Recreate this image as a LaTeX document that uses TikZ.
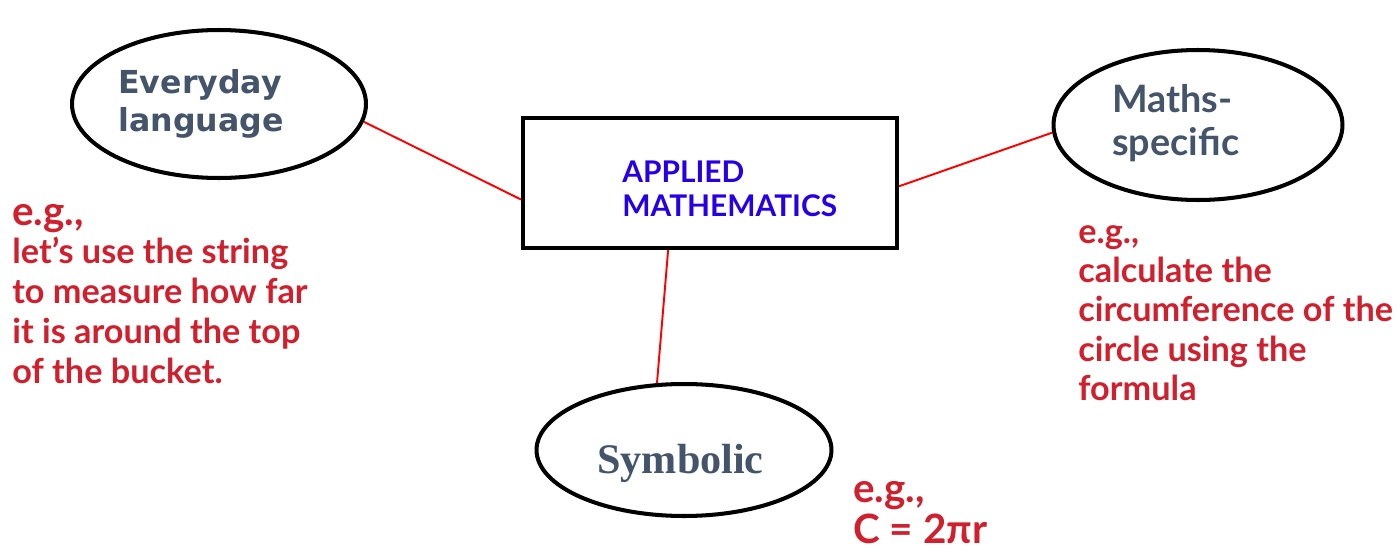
\documentclass[tikz,border=0pt]{standalone}
\usepackage{fontspec}
\setmainfont{Lato}
\newfontfamily\verdanafont{DejaVu Sans}
\newfontfamily\timesfont{Liberation Serif}
\usetikzlibrary{shapes.geometric}
\definecolor{slategrey}{HTML}{44546A}
\definecolor{egred}{HTML}{D0202D}
\definecolor{appliedblue}{HTML}{2800E6}
\definecolor{linkred}{HTML}{FF0000}

\tikzset{
  bubble/.style={ellipse, draw, line width=2.3pt, inner sep=0pt},
  conceptbox/.style={rectangle, draw, line width=2.3pt, inner sep=0pt,
    minimum width=7.48cm, minimum height=2.6cm},
  link/.style={linkred, line width=1.1pt},
  bubbletext/.style={text=slategrey, align=left, inner sep=0pt, anchor=base west},
  example/.style={text=egred, align=left, inner sep=0pt, anchor=base west,
    font=\bfseries\fontsize{19.5}{22.6}\selectfont},
  bigexample/.style={example, font=\bfseries\fontsize{23}{22.8}\selectfont}
}

\begin{document}
\begin{tikzpicture}[x=0.02cm,y=-0.02cm]
  \useasboundingbox (0,0) rectangle (1397,548);

  % the three ways of speaking and the centre box
  \node[bubble, minimum width=5.88cm, minimum height=2.96cm] (everyday) at (219,104) {};
  \node[bubble, minimum width=5.78cm, minimum height=3.0cm] (mathsspecific) at (1198,125) {};
  \node[bubble, minimum width=5.9cm, minimum height=2.64cm] (symbolic) at (684,450) {};
  \node[conceptbox] (applied) at (710,183) {};

  % texts (base = last line)
  \node[bubbletext, font=\verdanafont\bfseries\fontsize{18}{21.6}\selectfont]
    (everydaytext) at (118,131) {Everyday\\language};
  \node[bubbletext, font=\bfseries\fontsize{21.5}{24.4}\selectfont]
    (mathstext) at (1112,155) {Maths-\\specific};
  \node[bubbletext, font=\timesfont\bfseries\fontsize{24}{28}\selectfont]
    (symbolictext) at (597,473) {Symbolic};
  \node[bubbletext, text=appliedblue, font=\bfseries\fontsize{17}{19.3}\selectfont]
    (appliedtext) at (622,216) {APPLIED\\MATHEMATICS};

  % links
  \draw[link] (everyday.-7) -- (applied.185);
  \draw[link] (applied.-1) -- (mathsspecific.183);
  \draw[link] (applied.238) -- (symbolic.112);

  % examples
  \node[bigexample] (egleft) at (12,225) {e.g.,};
  \node[example] (leftexample) at (12,383)
    {let’s use the string\\to measure how far\\it is around the top\\of the bucket.};
  \node[example, font=\bfseries\fontsize{19.5}{22.2}\selectfont] (rightexample) at (1078,400)
    {e.g.,\\calculate the\\circumference of the\\circle using the\\formula};
  \node[bigexample] (bottomexample) at (853,543)
    {e.g.,\\C = 2πr};
\end{tikzpicture}
\end{document}
